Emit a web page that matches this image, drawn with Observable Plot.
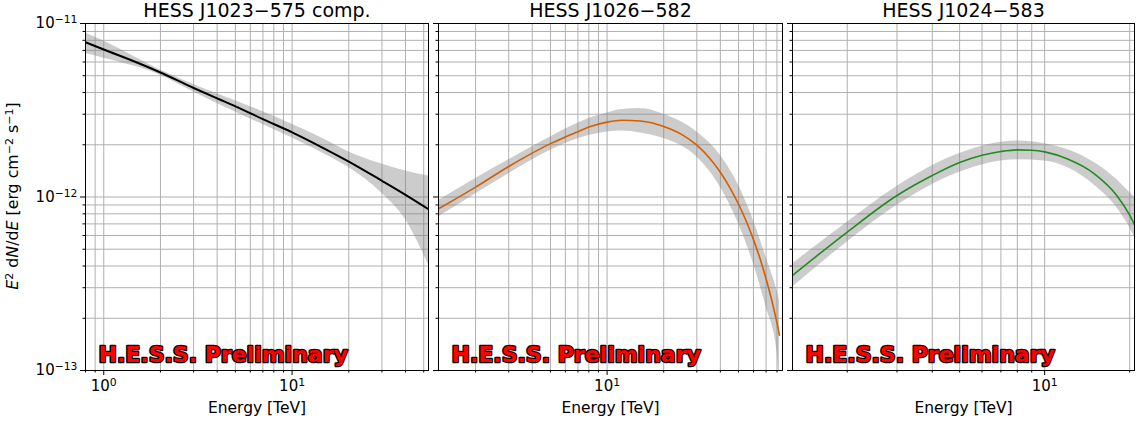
<!DOCTYPE html>
<html><head><meta charset="utf-8">
<script src="https://cdn.jsdelivr.net/npm/d3@7"></script>
<script src="https://cdn.jsdelivr.net/npm/@observablehq/plot@0.6"></script>
<style>
body{margin:0;background:#fff;}
#chart{position:relative;width:1138px;height:425px;background:#fff;font-family:"DejaVu Sans",sans-serif;}
#chart svg{position:absolute;top:0;max-width:none;overflow:visible;}
</style></head><body><div id="chart"></div>
<script>
// ---- titles and labels
const titles = ["HESS J1023\u2212575 comp.", "HESS J1026\u2212582", "HESS J1024\u2212583"];
const xLabel = "Energy [TeV]";
const watermark = "H.E.S.S. Preliminary";
const colors = ["#000000", "#d55e00", "#228b22"];

// ---- axes: domains, ticks, tick labels ("base^exponent")
const yDomain = [1e-13, 1e-11];
const yTicks = [1e-13, 1e-12, 1e-11];
const yTickLabels = ["10^\u221213", "10^\u221212", "10^\u221211"];
const yMinor = [2e-13,3e-13,4e-13,5e-13,6e-13,7e-13,8e-13,9e-13,2e-12,3e-12,4e-12,5e-12,6e-12,7e-12,8e-12,9e-12];

const xDomains = [[0.8, 53], [1.27, 85.6], [1.28, 20.8]];
const xTicks = [[1, 10], [10], [10]];
const xTickLabels = [["10^0", "10^1"], ["10^1"], ["10^1"]];
const xMinor = [
  [0.8,0.9,2,3,4,5,6,7,8,9,20,30,40,50],
  [2,3,4,5,6,7,8,9,20,30,40,50,60,70,80],
  [2,3,4,5,6,7,8,9,20]
];

// ---- panel 1: HESS J1023-575 comp.
const e1 = [0.8, 1, 1.5, 2, 3, 4, 5, 7, 10, 15, 20, 30, 40, 53];
const f1 = [7.80e-12, 7.08e-12, 5.96e-12, 5.22e-12, 4.25e-12, 3.70e-12, 3.33e-12, 2.81e-12, 2.36e-12, 1.89e-12, 1.60e-12, 1.24e-12, 1.03e-12, 8.51e-13];
const be1 = [0.8, 1, 2, 3, 5, 10, 15, 20, 30, 40, 53];
const lo1 = [6.71e-12, 6.31e-12, 5.04e-12, 4.03e-12, 3.09e-12, 2.19e-12, 1.76e-12, 1.48e-12, 1.05e-12, 7.41e-13, 4.07e-13];
const hi1 = [8.83e-12, 7.94e-12, 5.40e-12, 4.45e-12, 3.59e-12, 2.63e-12, 2.14e-12, 1.82e-12, 1.55e-12, 1.41e-12, 1.32e-12];

// ---- panel 2: HESS J1026-582
const e2 = [1.27, 2, 3, 4, 5, 6, 7, 8, 10, 12, 15, 20, 25, 30, 35, 40, 45, 50, 55, 60, 65, 70, 75, 80, 82.5];
const f2 = [8.55e-13, 1.14e-12, 1.50e-12, 1.79e-12, 2.03e-12, 2.22e-12, 2.38e-12, 2.53e-12, 2.70e-12, 2.77e-12, 2.74e-12, 2.55e-12, 2.29e-12, 1.99e-12, 1.68e-12, 1.39e-12, 1.13e-12, 9.08e-13, 7.22e-13, 5.68e-13, 4.42e-13, 3.38e-13, 2.55e-13, 1.88e-13, 1.60e-13];
const be2 = [1.27, 2, 3, 5, 8, 10, 12, 15, 20, 30, 40, 50, 60, 70, 80, 82.5];
const lo2 = [7.66e-13, 1.04e-12, 1.36e-12, 1.86e-12, 2.26e-12, 2.37e-12, 2.40e-12, 2.34e-12, 2.17e-12, 1.70e-12, 1.14e-12, 7.01e-13, 4.12e-13, 2.32e-13, 1.30e-13, 8.0e-14];
const hi2 = [9.55e-13, 1.28e-12, 1.64e-12, 2.22e-12, 2.83e-12, 3.05e-12, 3.19e-12, 3.24e-12, 3.00e-12, 2.37e-12, 1.74e-12, 1.17e-12, 7.33e-13, 4.50e-13, 2.89e-13, 2.53e-13];

// ---- panel 3: HESS J1024-583
const e3 = [1.28, 2, 3, 4, 5, 6, 7, 8, 9, 10, 12, 15, 18, 20, 20.8];
const f3 = [3.53e-13, 6.28e-13, 1.02e-12, 1.33e-12, 1.58e-12, 1.74e-12, 1.83e-12, 1.87e-12, 1.86e-12, 1.82e-12, 1.66e-12, 1.36e-12, 1.02e-12, 7.85e-13, 6.92e-13];
const be3 = [1.28, 2, 3, 5, 8, 10, 15, 18, 20, 20.8];
const lo3 = [3.02e-13, 5.50e-13, 8.95e-13, 1.39e-12, 1.64e-12, 1.61e-12, 1.17e-12, 8.71e-13, 6.68e-13, 5.89e-13];
const hi3 = [4.12e-13, 7.16e-13, 1.15e-12, 1.78e-12, 2.10e-12, 2.03e-12, 1.58e-12, 1.26e-12, 1.06e-12, 1.00e-12];

const lines = [[e1, f1], [e2, f2], [e3, f3]];
const bands = [[be1, lo1, hi1], [be2, lo2, hi2], [be3, lo3, hi3]];

// ---- layout
const panels = [
  {left: 0,   width: 430, marginLeft: 85, marginRight: 2},
  {left: 430, width: 354, marginLeft: 8,  marginRight: 2},
  {left: 784, width: 354, marginLeft: 8,  marginRight: 4}
];

const chart = document.getElementById("chart");
const gridColor = "#b0b0b0";

panels.forEach((p, k) => {
  const lineData = lines[k][0].map((e, i) => ({e, f: lines[k][1][i]}));
  const bandData = bands[k][0].map((e, i) => ({e, lo: bands[k][1][i], hi: bands[k][2][i]}));
  const xt = xTicks[k], xl = xTickLabels[k];
  const svg = Plot.plot({
    width: p.width,
    height: 425,
    marginLeft: p.marginLeft,
    marginRight: p.marginRight,
    marginTop: 23,
    marginBottom: 55,
    style: {fontFamily: "DejaVu Sans", fontSize: "15px", color: "black", background: "transparent", overflow: "visible"},
    x: {type: "log", domain: xDomains[k], label: null},
    y: {type: "log", domain: yDomain, label: null},
    marks: [
      Plot.gridX({ticks: xt.concat(xMinor[k]), stroke: gridColor, strokeOpacity: 1, strokeWidth: 1}),
      Plot.gridY({ticks: yTicks.concat(yMinor), stroke: gridColor, strokeOpacity: 1, strokeWidth: 1}),
      Plot.areaY(bandData, {x: "e", y1: "lo", y2: "hi", fill: "#808080", fillOpacity: 0.4, curve: "monotone-x", clip: true}),
      Plot.line(lineData, {x: "e", y: "f", stroke: colors[k], strokeWidth: k === 0 ? 2 : 1.6, curve: "monotone-x", clip: true}),
      Plot.frame({stroke: "black", strokeWidth: 1}),
      Plot.axisX({ticks: xt, tickSize: 5, tickPadding: 5, tickFormat: (d) => xl[xt.indexOf(d)], label: null, fontSize: 15}),
      Plot.axisX({ticks: xMinor[k], tickSize: 2.5, tickFormat: () => "", label: null}),
      Plot.axisY({ticks: yTicks, tickSize: 5, tickPadding: 3, tickFormat: k === 0 ? (d) => yTickLabels[yTicks.indexOf(d)] : () => "", label: null, fontSize: 15}),
      Plot.axisY({ticks: yMinor, tickSize: 2.5, tickFormat: () => "", label: null}),
      Plot.text([titles[k]], {text: (d) => d, frameAnchor: "top", dy: -7, lineAnchor: "bottom", fontSize: 19, fill: "black"}),
      Plot.text([xLabel], {text: (d) => d, frameAnchor: "bottom", dy: 42, lineAnchor: "bottom", fontSize: 15.5, fill: "black"}),
      Plot.text([watermark], {text: (d) => d, frameAnchor: "bottom-left", dx: 13, dy: -9, textAnchor: "start", lineAnchor: "bottom", fontSize: 22, fontWeight: "bold", fill: "#ff0000", stroke: "black", strokeWidth: 2.5, paintOrder: "stroke"})
    ]
  });
  svg.style.left = p.left + "px";
  const sel = d3.select(svg);
  sel.selectAll("text").attr("paint-order", "stroke");
  // turn "10^exp" tick labels into base + raised exponent
  sel.selectAll("text").each(function () {
    const s = this.textContent;
    if (s.indexOf("^") < 0) return;
    const [base, ex] = s.split("^");
    const t = d3.select(this);
    t.text(null);
    t.append("tspan").text(base);
    t.append("tspan").attr("dy", "-0.48em").attr("font-size", "0.72em").text(ex);
  });
  if (k === 0) {
    const t = sel.append("text")
      .attr("transform", "translate(18,196) rotate(-90)")
      .attr("text-anchor", "middle")
      .attr("font-size", 15.8)
      .attr("font-family", "DejaVu Sans")
      .attr("fill", "black");
    const parts = [
      ["E", "italic", null], ["2", null, "sup"], [" d", null, null], ["N", "italic", null],
      ["/d", null, null], ["E", "italic", null], [" [erg cm", null, null], ["\u22122", null, "sup"],
      [" s", null, null], ["\u22121", null, "sup"], ["]", null, null]
    ];
    let wasSup = false;
    parts.forEach(([s, style, sup]) => {
      const ts = t.append("tspan").text(s);
      if (style) ts.attr("font-style", style);
      if (sup) { ts.attr("dy", "-0.45em").attr("font-size", "0.7em"); wasSup = true; }
      else if (wasSup) { ts.attr("dy", "0.315em"); wasSup = false; }
    });
  }
  chart.appendChild(svg);
});
</script>
</body></html>
